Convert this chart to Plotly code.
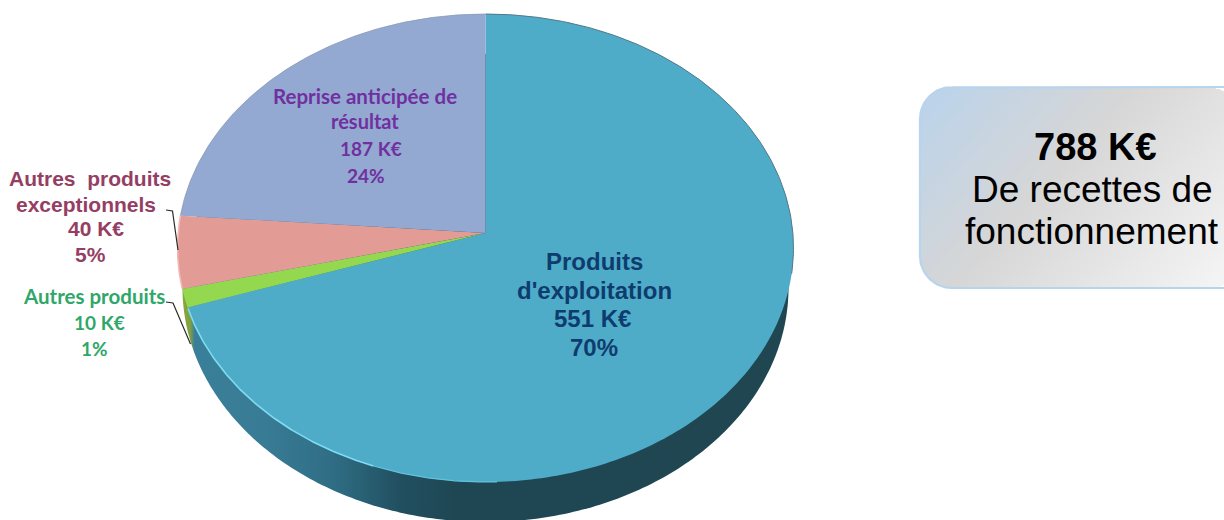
import numpy as np
import plotly.graph_objects as go

# ---- data ----
categories = ["Produits d'exploitation", "Autres produits", "Autres produits exceptionnels", "Reprise anticipée de résultat"]
values_keur = [551, 10, 40, 187]
percent_labels = ["70%", "1%", "5%", "24%"]
slice_colors = ["#4eacc9", "#93d84e", "#e29b95", "#93a9d1"]
total_label = "788 K€"
box_lines = ["De recettes de", "fonctionnement"]

# ---- geometry of the tilted pie (pixel space) ----
APEX = (485.5, 233.0)
FACE = dict(cx=485.5, cy=248.0, rx=308.0, ry=234.0)
WALL = dict(cx=485.5, cy=288.0, rx=303.0, ry=234.0)


def rim(theta):
    """Point of the face rim for a pie angle (radians, clockwise from top)."""
    s, c = np.sin(theta), np.cos(theta)
    dx = FACE["rx"] * s
    dy = -(219.0 if c > 0 else 233.0) * c
    ox = (APEX[0] - FACE["cx"]) / FACE["rx"]
    oy = (APEX[1] - FACE["cy"]) / FACE["ry"]
    ux = dx / FACE["rx"]
    uy = dy / FACE["ry"]
    a = ux * ux + uy * uy
    b = 2 * (ox * ux + oy * uy)
    k = ox * ox + oy * oy - 1
    t = (-b + np.sqrt(b * b - 4 * a * k)) / (2 * a)
    return APEX[0] + t * dx, APEX[1] + t * dy


def arc(t0, t1, n=160):
    pts = [rim(t) for t in np.linspace(t0, t1, n)]
    return [p[0] for p in pts], [p[1] for p in pts]


fig = go.Figure()

# side wall of the pie
w = np.linspace(0, 2 * np.pi, 400)
fig.add_trace(go.Scatter(
    x=WALL["cx"] + WALL["rx"] * np.cos(w), y=WALL["cy"] + WALL["ry"] * np.sin(w),
    mode="none", fill="toself", hoverinfo="skip", showlegend=False,
    fillgradient=dict(type="horizontal", colorscale=[
        [0.0, "#8aa63c"], [0.013, "#7f9f44"], [0.02, "#3a7f99"], [0.14, "#387b94"],
        [0.25, "#2f6d84"], [0.36, "#214f60"], [0.45, "#1f4753"], [1.0, "#1f4651"]]),
))

# pie face slices, from the values
cum = np.cumsum([0] + values_keur) / sum(values_keur) * 2 * np.pi
for i, name in enumerate(categories):
    ax_, ay_ = arc(cum[i], cum[i + 1], max(8, int(400 * values_keur[i] / sum(values_keur))))
    fig.add_trace(go.Scatter(
        x=[APEX[0]] + ax_ + [APEX[0]], y=[APEX[1]] + ay_ + [APEX[1]],
        mode="none", fill="toself", fillcolor=slice_colors[i], name=name,
        hoverinfo="name", showlegend=False))

# rim highlights
for t0, t1, col, wd in [
    (cum[1] - 0.005, np.radians(200), "#7fdcf2", 1.6),
    (np.radians(200), np.radians(178), "#62c3dc", 1.2),
    (np.radians(0), np.radians(100), "#56788a", 1.0),
    (cum[2], cum[3], "#f2b9b4", 1.5),
    (cum[3], np.radians(360), "#8a9cb8", 0.8),
]:
    ax_, ay_ = arc(t0, t1)
    fig.add_trace(go.Scatter(x=ax_, y=ay_, mode="lines", line=dict(color=col, width=wd),
                             hoverinfo="skip", showlegend=False))

# leader lines
for lx, ly in [([166, 172.5, 178], [210, 211, 250]), ([166, 173, 190.5], [302, 303, 344])]:
    fig.add_trace(go.Scatter(x=lx, y=ly, mode="lines", line=dict(color="#2a2a2a", width=1.2),
                             hoverinfo="skip", showlegend=False))

# rounded gradient box
BX0, BX1, BY0, BY1, BR = 920, 1240, 87, 288, 32
gx = np.arange(BX0, 1225)
gy = np.arange(BY0, BY1 + 1)
XX, YY = np.meshgrid(gx, gy)
S = (XX - BX0) + 0.9 * (YY - BY0)
nx = np.clip(np.maximum(BX0 + BR - XX, XX - (BX1 - BR)), 0, None)
ny = np.clip(np.maximum(BY0 + BR - YY, YY - (BY1 - BR)), 0, None)
S = np.where(nx ** 2 + ny ** 2 > BR ** 2, np.nan, S)
fig.add_trace(go.Heatmap(
    x=gx, y=gy, z=S, zmin=0, zmax=486, showscale=False, hoverinfo="skip",
    colorscale=[[0, "#b9d3ec"], [211 / 486, "#d6d6d6"], [1, "#f5f5f5"]]))
a = np.linspace(0, np.pi / 2, 24)
ox = np.concatenate([[1226], BX0 + BR - BR * np.sin(a), BX0 + BR - BR * np.cos(a), [1226]])
oy = np.concatenate([[BY0], BY0 + BR - BR * np.cos(a), BY1 - BR + BR * np.sin(a), [BY1]])
fig.add_trace(go.Scatter(x=ox, y=oy, mode="lines", line=dict(color="#b8d4ec", width=2.2),
                         hoverinfo="skip", showlegend=False))

# labels
ARIAL = "Liberation Sans"
CALI = "Lato"
MAROON, GREEN, PURPLE, NAVY = "#953e63", "#2fa768", "#7030a0", "#0f3c6e"
labels = [
    ("Autres  produits", 90, 178, MAROON, ARIAL, 21, True),
    ("exceptionnels", 86, 204, MAROON, ARIAL, 21, True),
    (f"{values_keur[2]} K€", 96, 228, MAROON, ARIAL, 21, True),
    (percent_labels[2], 90, 254, MAROON, ARIAL, 21, True),
    ("Autres produits", 94, 296, GREEN, CALI, 20.5, True),
    (f"{values_keur[1]} K€", 99, 322, GREEN, CALI, 19, True),
    (percent_labels[1], 94, 348, GREEN, CALI, 19, True),
    ("Reprise anticipée de", 365, 96, PURPLE, CALI, 20.5, True),
    ("résultat", 365, 121, PURPLE, CALI, 20, True),
    (f"{values_keur[3]} K€", 371, 148, PURPLE, CALI, 19, True),
    (percent_labels[3], 366, 175, PURPLE, CALI, 19, True),
    ("Produits", 594, 261, NAVY, ARIAL, 24, True),
    ("d'exploitation", 594, 290, NAVY, ARIAL, 24, True),
    (f"{values_keur[0]} K€", 592, 318, NAVY, ARIAL, 24, True),
    (percent_labels[0], 594, 347, NAVY, ARIAL, 24, True),
    (total_label, 1095, 147, "#000000", ARIAL, 38, True),
    (box_lines[0], 1092, 189, "#000000", ARIAL, 37, False),
    (box_lines[1], 1092, 231, "#000000", ARIAL, 37, False),
]
annotations = [
    dict(text=f"<b>{t}</b>" if b else t, x=x, y=y, xref="x", yref="y", showarrow=False,
         xanchor="center", yanchor="middle", font=dict(family=fam, size=sz, color=c))
    for t, x, y, c, fam, sz, b in labels
]

fig.update_layout(
    width=1224, height=520, margin=dict(l=0, r=0, t=0, b=0),
    paper_bgcolor="white", plot_bgcolor="white", showlegend=False,
    xaxis=dict(range=[0, 1224], visible=False, fixedrange=True),
    yaxis=dict(range=[520, 0], visible=False, fixedrange=True),
    annotations=annotations,
)
fig.write_html("out.html", config=dict(displayModeBar=False),
               post_script="document.body.style.margin='0';document.body.style.overflow='hidden';")
